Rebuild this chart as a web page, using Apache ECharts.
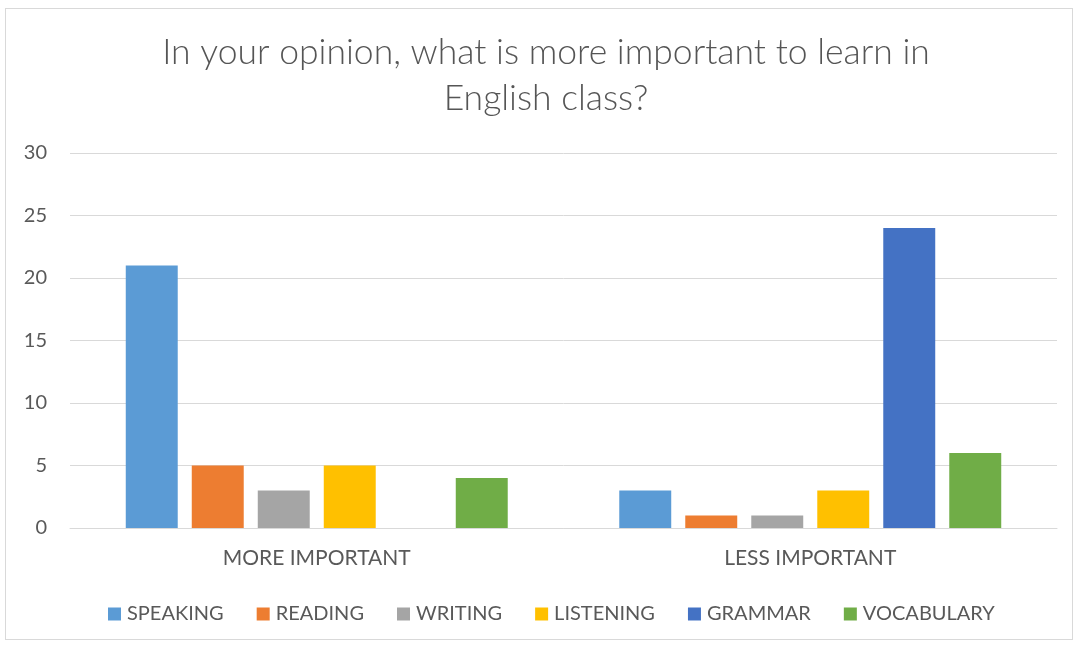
<!DOCTYPE html>
<html>
<head>
<meta charset="utf-8">
<script src="https://cdn.jsdelivr.net/npm/echarts@6/dist/echarts.min.js"></script>
<style>
  html, body { margin: 0; padding: 0; background: #fff; }
  #frame { position: absolute; left: 5px; top: 8px; width: 1068px; height: 632px; border: 1px solid #d9d9d9; box-sizing: border-box; }
  #chart { position: absolute; left: 0; top: 0; width: 1075px; height: 645px; }
</style>
</head>
<body>
<div id="frame"></div>
<div id="chart"></div>
<script>
// Survey answers grouped by importance
const categories = ['MORE IMPORTANT', 'LESS IMPORTANT'];
const skills = ['SPEAKING', 'READING', 'WRITING', 'LISTENING', 'GRAMMAR', 'VOCABULARY'];
const speaking = [21, 3];
const reading = [5, 1];
const writing = [3, 1];
const listening = [5, 3];
const grammar = [0, 24];
const vocabulary = [4, 6];
const yTicks = { min: 0, max: 30, interval: 5 };

const colors = ['#5b9bd5', '#ed7d31', '#a5a5a5', '#ffc000', '#4472c4', '#70ad47'];
const values = [speaking, reading, writing, listening, grammar, vocabulary];
const font = 'Lato, "Open Sans", sans-serif';

const chart = echarts.init(document.getElementById('chart'), null, { renderer: 'canvas' });
chart.setOption({
  animation: false,
  color: colors,
  title: {
    text: 'In your opinion, what is more important to learn in\nEnglish class?',
    left: 541,
    top: 25,
    textAlign: 'center',
    textStyle: { fontFamily: font, fontWeight: 300, fontSize: 35.5, color: '#555555', lineHeight: 46 }
  },
  legend: {
    data: skills,
    top: 599,
    left: 103,
    icon: 'rect',
    itemWidth: 13,
    itemHeight: 13,
    itemGap: 33,
    textStyle: { fontFamily: font, fontSize: 20, color: '#595959', padding: [0, 0, 0, 1] }
  },
  grid: { left: 70, right: 18, top: 153, bottom: 117, containLabel: false },
  xAxis: {
    type: 'category',
    data: categories,
    axisLine: { lineStyle: { color: '#d9d9d9', width: 1 } },
    axisTick: { show: false },
    axisLabel: { fontFamily: font, fontSize: 21, color: '#595959', margin: 20 }
  },
  yAxis: {
    type: 'value',
    min: yTicks.min,
    max: yTicks.max,
    interval: yTicks.interval,
    axisLine: { show: false },
    axisTick: { show: false },
    splitLine: { lineStyle: { color: '#d9d9d9', width: 1 } },
    axisLabel: { fontFamily: font, fontSize: 20, color: '#595959', margin: 23 }
  },
  series: skills.map((name, i) => ({
    name,
    type: 'bar',
    data: values[i],
    barGap: '27%',
    barCategoryGap: '22.6%'
  }))
});
</script>
</body>
</html>
